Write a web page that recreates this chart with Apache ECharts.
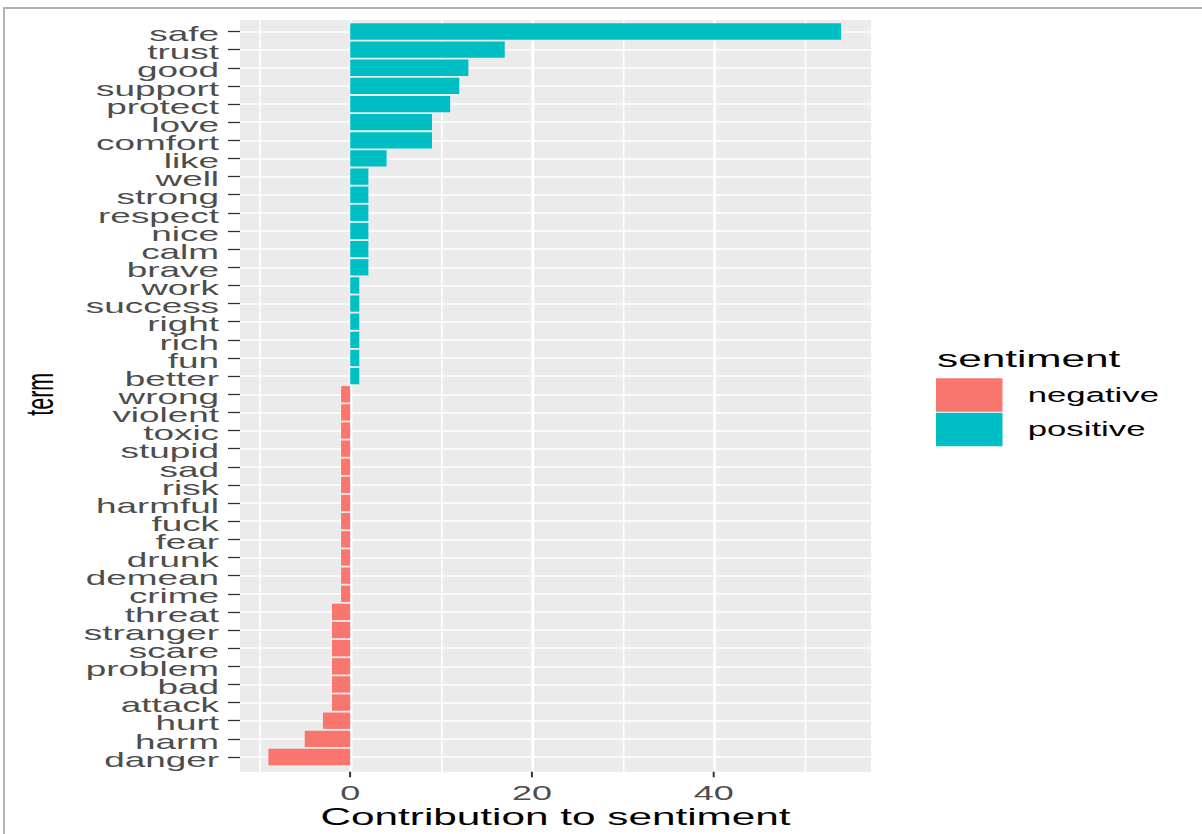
<!DOCTYPE html>
<html>
<head>
<meta charset="utf-8">
<script src="https://cdn.jsdelivr.net/npm/echarts@6/dist/echarts.min.js"></script>
<style>
  html, body { margin: 0; padding: 0; background: #ffffff; overflow: hidden; width: 1202px; height: 834px; }
  #frame { position: absolute; left: 3px; top: 7px; width: 1400px; height: 1000px;
           border-top: 2px solid #B8B0A9; border-left: 2px solid #B8B0A9; box-sizing: border-box; }
  #chart { position: absolute; left: 0; top: 0; height: 834px; transform-origin: 0 0; }
</style>
</head>
<body>
<div id="frame"></div>
<div id="chart"></div>
<script>
// ---- data (bottom to top, as drawn) ----
const terms = ['danger','harm','hurt','attack','bad','problem','scare','stranger','threat',
  'crime','demean','drunk','fear','fuck','harmful','risk','sad','stupid','toxic','violent','wrong',
  'better','fun','rich','right','success','work','brave','calm','nice','respect','strong','well',
  'like','comfort','love','protect','support','good','trust','safe'];
const contribution = [-9,-5,-3,-2,-2,-2,-2,-2,-2,
  -1,-1,-1,-1,-1,-1,-1,-1,-1,-1,-1,-1,
  1,1,1,1,1,1,2,2,2,2,2,2,
  4,9,9,11,12,13,17,54];
const sentiment = ['negative','negative','negative','negative','negative','negative','negative','negative','negative',
  'negative','negative','negative','negative','negative','negative','negative','negative','negative','negative','negative','negative',
  'positive','positive','positive','positive','positive','positive','positive','positive','positive','positive','positive','positive',
  'positive','positive','positive','positive','positive','positive','positive','positive'];
const sentimentLevels = ['negative','positive'];
const xTicks = [0, 20, 40];

// ---- layout ----
const S = 1.8;              // horizontal stretch of the reference
const W = 1202 / S, H = 834;
const X0 = 350.2, K = 9.09; // screen px of value 0, px per unit
const gx = v => (X0 + v * K) / S;
const PMIN = -12.12, PMAX = 57.3;
const FONT = 'Liberation Sans';

const el = document.getElementById('chart');
el.style.width = W + 'px';
el.style.transform = 'scaleX(' + S + ')';
const chart = echarts.init(el, null, { renderer: 'svg', width: W, height: H });

const seriesData = lvl => contribution.map((v, i) => sentiment[i] === lvl ? v : '-');
const colors = { negative: '#F8766D', positive: '#00BFC4' };

chart.setOption({
  animation: false,
  backgroundColor: 'transparent',
  title: {
    text: 'sentiment', left: 937 / S, top: 347, padding: 0,
    textStyle: { fontFamily: FONT, fontSize: 23.5, fontWeight: 'normal', color: '#000' }
  },
  legend: {
    data: sentimentLevels, orient: 'vertical', left: 936 / S, top: 378.3, padding: 0,
    itemWidth: 66.5 / S, itemHeight: 33.5, itemGap: 1, icon: 'rect', selectedMode: false,
    textStyle: { fontFamily: FONT, fontSize: 19.3, color: '#000', padding: [0, 0, 0, 9] }
  },
  grid: [
    { left: gx(-20), right: W - gx(60), top: 20, bottom: H - 771.7 },
    { left: gx(PMIN), right: W - gx(PMAX), top: 31.5, bottom: H - 760.5 },
    { left: gx(PMIN), right: W - gx(PMAX), top: 20, bottom: H - 771.7,
      show: true, backgroundColor: '#EBEBEB', borderWidth: 0 }
  ],
  xAxis: [
    { gridIndex: 0, type: 'value', min: -20, max: 60, interval: 20,
      axisLine: { show: false, onZero: false },
      axisTick: { show: true, customValues: xTicks, length: 5.6, lineStyle: { color: '#333333', width: 1.1 } },
      axisLabel: { customValues: xTicks, color: '#4D4D4D', fontSize: 20, fontFamily: FONT, margin: 11 },
      splitLine: { show: true, lineStyle: { color: '#FFFFFF', width: 1.5 } },
      minorTick: { show: false, splitNumber: 2 },
      minorSplitLine: { show: true, lineStyle: { color: '#FFFFFF', width: 0.9 } } },
    { gridIndex: 1, type: 'value', min: PMIN, max: PMAX,
      axisLine: { show: false, onZero: false }, axisTick: { show: false }, axisLabel: { show: false },
      splitLine: { show: false },
      name: 'Contribution to sentiment', nameLocation: 'middle', nameGap: 48,
      nameTextStyle: { fontFamily: FONT, fontSize: 23.5, color: '#000' } },
    { gridIndex: 2, type: 'value', min: PMIN, max: PMAX, show: false }
  ],
  yAxis: [
    { gridIndex: 0, type: 'value', show: false, axisLine: { onZero: false } },
    { gridIndex: 1, type: 'category', data: terms, boundaryGap: false,
      axisLine: { show: false, onZero: false },
      axisTick: { show: true, interval: 0, length: 12 / S, lineStyle: { color: '#333333', width: 1.3 } },
      axisLabel: { interval: 0, color: '#4D4D4D', fontSize: 20.5, fontFamily: FONT, margin: 21 / S,
                   verticalAlign: 'top', lineHeight: 5 },
      splitLine: { show: true, interval: 0, lineStyle: { color: '#FFFFFF', width: 1.6 } },
      name: 'term', nameLocation: 'middle', nameRotate: 90, nameGap: 100,
      nameTextStyle: { fontFamily: FONT, fontSize: 21.5, color: '#000' } },
    { gridIndex: 2, type: 'value', show: false, axisLine: { onZero: false } }
  ],
  series: sentimentLevels.map(lvl => ({
    name: lvl, type: 'bar', xAxisIndex: 1, yAxisIndex: 1, stack: 'total',
    barWidth: '90%', clip: false,
    itemStyle: { color: colors[lvl] },
    data: seriesData(lvl)
  }))
});
</script>
</body>
</html>
